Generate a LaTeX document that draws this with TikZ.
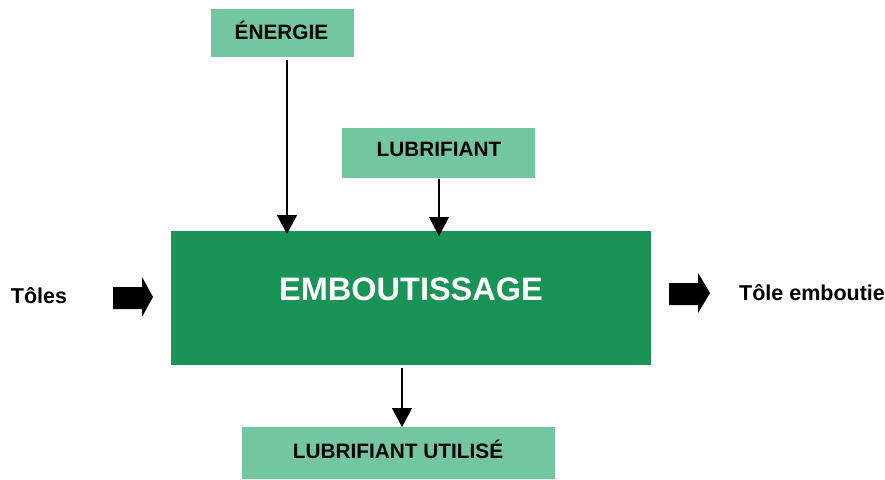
\documentclass[tikz,border=0pt]{standalone}
\usepackage{fontspec}
\setmainfont{Liberation Sans}
\usetikzlibrary{arrows.meta}
\definecolor{lightgreen}{HTML}{72C7A1}
\definecolor{darkgreen}{HTML}{1A9356}
\begin{document}
\begin{tikzpicture}[x=1pt,y=-1pt,
  flowbox/.style={inner sep=0pt,font=\fontsize{20.8}{24}\selectfont\bfseries},
  flowarrow/.style={line width=1.4pt,-{Triangle[length=19pt,width=20pt]}},
  label/.style={inner sep=0pt,font=\fontsize{21.5}{24}\selectfont\bfseries},
  blockarrow/.style={fill=black,draw=none}]
\useasboundingbox (0,0) rectangle (885,479);
% main process
\fill[darkgreen] (171,231) rectangle (651,365);
\node[inner sep=0pt,text=white,font=\fontsize{32.5}{38}\selectfont\bfseries] (main) at (411,289) {EMBOUTISSAGE};
% inputs and outputs
\fill[lightgreen] (211,9) rectangle (354,57);
\node[flowbox] (energie) at (281.5,30) {ÉNERGIE};
\fill[lightgreen] (342,128) rectangle (535,178);
\node[flowbox] (lub) at (439,149) {LUBRIFIANT};
\fill[lightgreen] (242,427) rectangle (555,479);
\node[flowbox] (lubu) at (398,449) {LUBRIFIANT UTILISÉ};
% connectors
\coordinate (eTop) at (287,60);
\coordinate (eEnd) at (287,234);
\coordinate (lTop) at (439,179);
\coordinate (lEnd) at (439,236);
\coordinate (uTop) at (402,368);
\coordinate (uEnd) at (402,427);
\draw[flowarrow] (eTop) -- (eEnd);
\draw[flowarrow] (lTop) -- (lEnd);
\draw[flowarrow] (uTop) -- (uEnd);
% side labels
\node[label] (toles) at (39,296) {Tôles};
\node[label] (tolee) at (812,293) {Tôle emboutie};
% block arrows
\fill[blockarrow] (113,287) -- (142,287) -- (142,277) -- (153,297) -- (142,317) -- (142,309) -- (113,309) -- cycle;
\fill[blockarrow] (669,283) -- (698,283) -- (698,273) -- (710,293) -- (698,313) -- (698,305) -- (669,305) -- cycle;
\end{tikzpicture}
\end{document}
